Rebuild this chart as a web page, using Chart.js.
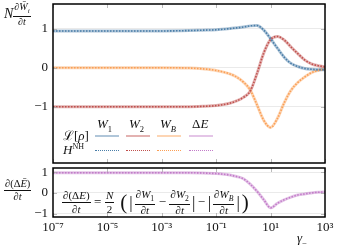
<!DOCTYPE html>
<html>
<head>
<meta charset="utf-8">
<script src="https://cdn.jsdelivr.net/npm/chart.js@4.4.1/dist/chart.umd.min.js"></script>
<style>
  body { margin: 0; background: #fff; }
  #wrap { position: relative; width: 339px; height: 245px; overflow: hidden; font-family: 'Liberation Serif', 'DejaVu Serif', serif; color: #111; }
  .layer { position: absolute; left: 0; top: 0; width: 339px; height: 245px; }
  .txt { position: absolute; white-space: nowrap; line-height: 1; }
  .fr { display: inline-flex; flex-direction: column; align-items: center; vertical-align: middle; line-height: 1.05; }
  .fr > span:first-child { border-bottom: 0.8px solid #111; padding: 0 1px 0.5px; }
  .fr > span:last-child { padding-top: 0.5px; }
  .seg { position: absolute; width: 24px; height: 0; }
  sub { font-size: 70%; }
  .big { vertical-align: middle; }
  .op { margin: 0 2.5px; }
  .form .fr { font-size: 11px; margin: 0 1px; }
</style>
</head>
<body>
<div id="wrap">
  <div class="layer"><canvas id="topChart" width="339" height="245"></canvas></div>
  <div class="layer"><canvas id="botChart" width="339" height="245"></canvas></div>

  <!-- y labels -->
  <div class="txt" style="left:4px;top:2px;font-size:14px;"><i>N</i><span class="fr" style="font-size:10px;"><span>∂<i>W̄<sub>i</sub></i></span><span>∂<i>t</i></span></span></div>
  <div class="txt" style="left:4px;top:178px;"><span class="fr" style="font-size:10.5px;"><span>∂(Δ<i>Ē</i>)</span><span>∂<i>t</i></span></span></div>

  <!-- legend table -->
  <div class="txt" style="left:97px;top:117px;font-size:13px;"><i>W</i><sub style="font-size:8.5px">1</sub></div>
  <div class="txt" style="left:129px;top:117px;font-size:13px;"><i>W</i><sub style="font-size:8.5px">2</sub></div>
  <div class="txt" style="left:160px;top:117px;font-size:13px;"><i>W</i><sub style="font-size:8.5px"><i>B</i></sub></div>
  <div class="txt" style="left:192px;top:117px;font-size:13px;">Δ<i>E</i></div>
  <div class="txt" style="left:63px;top:129px;font-size:13px;">ℒ[<i>ρ</i>]</div>
  <div class="txt" style="left:63px;top:143px;font-size:13px;"><i>H</i><sup style="font-size:8px">NH</sup></div>
  <div id="legendSegs"></div>

  <!-- formula in lower panel -->
  <div class="txt form" style="left:61px;top:189px;font-size:13px;"><span class="fr"><span>∂(Δ<i>E</i>)</span><span>∂<i>t</i></span></span><span class="op">=</span><span class="fr"><span><i>N</i></span><span>2</span></span><span class="big" style="font-size:21px;margin:0 2px 0 5px;">(</span><span class="big" style="font-size:17px;margin-right:1px;">|</span><span class="fr"><span>∂<i>W</i><sub>1</sub></span><span>∂<i>t</i></span></span><span class="op">−</span><span class="fr"><span>∂<i>W</i><sub>2</sub></span><span>∂<i>t</i></span></span><span class="big" style="font-size:17px;margin-left:1px;">|</span><span class="op">−</span><span class="big" style="font-size:17px;margin-right:1px;">|</span><span class="fr"><span>∂<i>W<sub>B</sub></i></span><span>∂<i>t</i></span></span><span class="big" style="font-size:17px;margin-left:1px;">|</span><span class="big" style="font-size:21px;margin-left:2px;">)</span></div>

  <div class="txt" style="left:297px;top:231px;font-size:13px;"><i>γ</i><sub style="font-size:8.5px">−</sub></div>
</div>

<script>
// gamma grid (log10: -7 .. 3)
const gammas = [1e-7, 1e-6, 1e-5, 1e-4, 1e-3, 1e-2, 0.0316, 0.1, 0.316, 0.562, 1, 1.78, 3.16, 5.62, 10, 17.8, 31.6, 56.2, 100, 178, 316, 562, 1000];

const w1Vals = [0.94, 0.94, 0.94, 0.94, 0.94, 0.95, 0.96, 0.97, 1.0, 1.02, 1.04, 1.07, 1.08, 0.96, 0.74, 0.5, 0.27, 0.11, 0.03, -0.02, -0.04, -0.05, -0.05];
const w2Vals = [-1.0, -1.0, -1.0, -1.0, -1.0, -1.0, -0.99, -0.97, -0.91, -0.85, -0.76, -0.6, -0.15, 0.38, 0.72, 0.8, 0.71, 0.53, 0.36, 0.2, 0.1, 0.05, 0.02];
const wbVals = [0, 0, 0, 0, 0, -0.01, -0.03, -0.07, -0.16, -0.24, -0.37, -0.57, -0.95, -1.35, -1.53, -1.3, -0.9, -0.58, -0.38, -0.24, -0.13, -0.07, -0.03];
const dEVals = [0.97, 0.97, 0.97, 0.97, 0.97, 0.97, 0.96, 0.93, 0.86, 0.79, 0.68, 0.42, 0.08, -0.33, -0.72, -0.5, -0.33, -0.2, -0.1, -0.05, 0.0, 0.03, 0.05];

const xTickVals = [1e-7, 1e-5, 1e-3, 1e-1, 1e1, 1e3];
const xTickText = ['10⁻⁷', '10⁻⁵', '10⁻³', '10⁻¹', '10¹', '10³'];
const yTickVals = [-1, 0, 1];
const yTickText = ['−1', '0', '1'];

const colors = { w1: '#4a7ea8', w2: '#c0504d', wb: '#fb9f55', dE: '#c27bc9' };

function pts(vals) {
    return gammas.map((g, i) => ({ x: g, y: vals[i] }));
}

// solid light (L[rho]) underneath, dotted (H^NH) on top
function pair(vals, color) {
    return [
        { data: pts(vals), borderColor: color + '70', borderWidth: 3, pointRadius: 0, cubicInterpolationMode: 'monotone', order: 2 },
        { data: pts(vals), borderColor: color, borderWidth: 1.6, borderDash: [1.5, 1.5], pointRadius: 0, cubicInterpolationMode: 'monotone', order: 1 },
    ];
}

// frame + inward ticks
const framePlugin = {
    id: 'frame',
    afterDraw(chart) {
        const { ctx, chartArea: a, scales } = chart;
        ctx.save();
        ctx.strokeStyle = '#aaa';
        ctx.lineWidth = 0.8;
        xTickVals.forEach(v => {
            const px = Math.round(scales.x.getPixelForValue(v)) + 0.5;
            ctx.beginPath();
            ctx.moveTo(px, a.top); ctx.lineTo(px, a.top + 4);
            ctx.moveTo(px, a.bottom); ctx.lineTo(px, a.bottom - 4);
            ctx.stroke();
        });
        yTickVals.forEach(v => {
            const py = Math.round(scales.y.getPixelForValue(v)) + 0.5;
            ctx.beginPath();
            ctx.moveTo(a.left, py); ctx.lineTo(a.left + 4, py);
            ctx.moveTo(a.right, py); ctx.lineTo(a.right - 4, py);
            ctx.stroke();
        });
        ctx.strokeStyle = '#000';
        ctx.lineWidth = 1.5;
        ctx.strokeRect(a.left, a.top, a.right - a.left, a.bottom - a.top);
        ctx.restore();
    },
};

function yScale(min, max) {
    return {
        min: min, max: max,
        afterFit: s => { s.width = 53; s.paddingTop = 0; s.paddingBottom = 0; },
        afterBuildTicks: s => { s.ticks = yTickVals.map(v => ({ value: v })); },
        grid: { color: '#e4e4e4', lineWidth: 0.8, drawTicks: false },
        border: { display: false },
        ticks: {
            padding: 5,
            color: '#111',
            font: { family: 'Liberation Serif', size: 13 },
            callback: v => yTickText[yTickVals.indexOf(v)],
        },
    };
}

function xScale(show) {
    return {
        type: 'logarithmic',
        min: 1e-7, max: 1e3,
        display: show,
        afterFit: s => { s.height = show ? 28 : 0; s.paddingLeft = 0; s.paddingRight = 0; },
        afterBuildTicks: s => { s.ticks = xTickVals.map(v => ({ value: v })); },
        grid: { display: false, drawTicks: false },
        border: { display: false },
        ticks: {
            padding: 3,
            maxRotation: 0,
            autoSkip: false,
            color: '#111',
            font: { family: 'Liberation Serif', size: 13 },
            callback: v => xTickText[xTickVals.indexOf(v)],
        },
    };
}

const common = {
    responsive: false,
    animation: false,
    devicePixelRatio: 1,
    events: [],
    plugins: { legend: { display: false }, tooltip: { enabled: false } },
};

new Chart(document.getElementById('topChart'), {
    type: 'line',
    data: { datasets: [...pair(w1Vals, colors.w1), ...pair(w2Vals, colors.w2), ...pair(wbVals, colors.wb)] },
    options: {
        ...common,
        layout: { padding: { top: 4, right: 14, bottom: 82, left: 0 } },
        scales: { x: xScale(false), y: yScale(-2.44, 1.63) },
    },
    plugins: [framePlugin],
});

new Chart(document.getElementById('botChart'), {
    type: 'line',
    data: { datasets: pair(dEVals, colors.dE) },
    options: {
        ...common,
        layout: { padding: { top: 168, right: 14, bottom: 0, left: 0 } },
        scales: { x: xScale(true), y: yScale(-1.16, 1.2) },
    },
    plugins: [framePlugin],
});

// legend line samples
const segs = document.getElementById('legendSegs');
const segX = [95, 126, 157, 189];
[colors.w1, colors.w2, colors.wb, colors.dE].forEach((c, i) => {
    const s = document.createElement('div');
    s.className = 'seg';
    s.style.left = segX[i] + 'px';
    s.style.top = '135px';
    s.style.borderTop = '2.5px solid ' + c + '70';
    segs.appendChild(s);
    const d = document.createElement('div');
    d.className = 'seg';
    d.style.left = segX[i] + 'px';
    d.style.top = '150px';
    d.style.borderTop = '1.5px dotted ' + c;
    segs.appendChild(d);
});
</script>
</body>
</html>
